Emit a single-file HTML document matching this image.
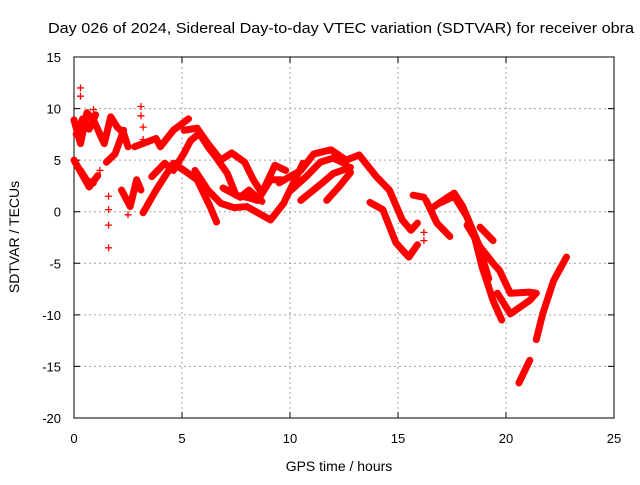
<!DOCTYPE html>
<html><head><meta charset="utf-8"><style>
body{margin:0;background:#fff}
svg text{font-family:"Liberation Sans",sans-serif;fill:#000}
</style></head><body>
<svg width="640" height="480" xmlns="http://www.w3.org/2000/svg">
<rect width="640" height="480" fill="#fff"/>
<text x="48" y="33" font-size="15" textLength="586" lengthAdjust="spacingAndGlyphs">Day 026 of 2024, Sidereal Day-to-day VTEC variation (SDTVAR) for receiver obra</text>
<g id="grid"></g>
<g id="axes"></g>
<g id="series"></g>
<text x="339" y="471" font-size="14" text-anchor="middle">GPS time / hours</text>
<text transform="translate(19,237) rotate(-90)" font-size="14" text-anchor="middle">SDTVAR / TECUs</text>
</svg>
<script>
const xTicks=[0,5,10,15,20,25];
const yTicks=[15,10,5,0,-5,-10,-15,-20];
const track1=[[0,8.9],[0.3,6.6],[0.6,9.6],[0.9,8.9],[1.4,6.6],[1.7,9.2],[2.0,8.2],[2.3,7.6],[2.5,6.3]];
const track2=[[1.5,4.8],[1.9,5.6],[2.3,7.9]];
const track3=[[0,5],[0.7,2.4],[1.1,3.5]];
const track4=[[2.2,2.1],[2.6,0.5],[2.9,3.1],[3.1,2.1]];
const track5=[[2.8,6.3],[3.8,7.1],[4.0,6.3],[4.6,7.9],[5.3,9.0]];
const track6=[[5.1,7.9],[5.7,8.1],[6.2,6.6],[6.8,5.0],[7.3,5.7],[7.9,4.8],[8.3,3.1],[8.7,1.8],[9.3,4.5],[9.8,4.0]];
const track7=[[3.6,3.4],[4.2,4.7],[4.6,4.0],[5.1,5.7],[5.4,6.9],[5.8,7.6],[6.2,6.3],[6.6,5.2],[7.1,3.7],[7.5,1.6],[8.0,1.4],[8.5,1.1],[9.1,3.1],[9.6,3.1]];
const track8=[[3.2,-0.1],[3.8,2.1],[4.6,4.7],[5.1,4.0],[5.7,3.1],[6.3,0.5],[6.6,-1.0]];
const track9=[[5.6,4.0],[6.2,2.1],[6.8,0.8],[7.4,0.4],[8.0,0.5],[9.1,-0.8],[9.7,0.8],[10.6,4.7]];
const track10=[[6.9,2.3],[7.7,1.4],[8.1,2.1],[8.7,1.0]];
const track11=[[9.5,2.8],[10.5,4.0],[11.1,5.6],[11.9,6.0],[12.6,5.0],[13.2,5.5],[14.0,3.4],[14.6,2.1],[15.2,-0.8],[15.6,-1.8],[15.9,-1.1]];
const track12=[[13.7,0.9],[14.3,0.2],[14.9,-3.0],[15.5,-4.4],[15.9,-3.2]];
const track13=[[10.5,1.1],[11.5,2.8],[12.0,3.7],[12.8,4.3]];
const track14=[[11.7,1.1],[12.3,2.5],[12.8,3.8]];
const track15=[[16.3,1.1],[16.8,-1.1],[17.4,-2.4]];
const track16=[[16.6,0.4],[17.3,1.4],[17.6,1.8],[18.0,0.5],[18.5,-2.1],[18.9,-5.4],[19.4,-8.6],[19.8,-10.5]];
const track17=[[18.2,-1.3],[18.8,-3.4],[19.4,-5.0],[19.7,-5.7],[20.2,-7.9],[21.1,-7.8],[21.4,-7.9]];
const track18=[[18.8,-1.5],[19.4,-2.8]];
const track19=[[19.6,-7.9],[20.2,-9.9],[21.1,-8.6],[21.4,-7.9]];
const track20=[[21.4,-12.4],[21.7,-9.9],[22.2,-6.7],[22.8,-4.4]];
const track21=[[20.6,-16.6],[21.1,-14.4]];
const track22=[[15.7,1.6],[16.2,1.4]];
const track23=[[0.1,7.5],[0.4,9.0],[0.7,8.0],[1.0,9.4]];
const track24=[[0.3,4.0],[0.6,3.0],[0.9,2.8]];
const track25=[[10.0,2.0],[10.8,3.5],[11.4,4.8],[12.0,5.2],[12.6,4.6]];
const track26=[[17.0,0.9],[17.6,1.5],[18.2,-0.5],[18.7,-3.0],[19.2,-6.5]];
const tracks=[track1,track2,track3,track4,track5,track6,track7,track8,track9,track10,track11,track12,track13,track14,track15,track16,track17,track18,track19,track20,track21,track22,track23,track24,track25,track26];
const outliers=[[1.6,1.5],[1.6,0.2],[1.6,-1.3],[1.6,-3.5],[3.1,10.2],[3.1,9.3],[3.2,8.2],[3.2,7.0],[0.3,12],[0.3,11.2],[0.9,9.9],[16.2,-2.0],[16.2,-2.8],[2.5,-0.3],[1.2,4.0]];
const X0=74,X1=614,Y0=418,Y1=57;
const sx=t=>X0+(t-0)/(25-0)*(X1-X0);
const sy=v=>Y0-(v+20)/(15+20)*(Y0-Y1);
const NS="http://www.w3.org/2000/svg";
function mk(tag,attrs,parent){const e=document.createElementNS(NS,tag);for(const k in attrs)e.setAttribute(k,attrs[k]);parent.appendChild(e);return e;}
const grid=document.getElementById('grid'),axes=document.getElementById('axes'),ser=document.getElementById('series');
xTicks.forEach(t=>{
 if(t>0&&t<25){const l=mk('line',{x1:sx(t),x2:sx(t),y1:Y1,y2:Y0,stroke:'#a0a0a0','stroke-dasharray':'2,3'},grid);
 
 }
 const tk=mk('path',{d:`M${sx(t)},${Y0}v-6M${sx(t)},${Y1}v6`,stroke:'#000'},axes);
 
 
 const tx=mk('text',{x:sx(t),y:443,'font-size':13,'text-anchor':'middle'},axes);tx.textContent=t;
 
 
});
yTicks.forEach(v=>{
 if(v<15&&v>-20){const l=mk('line',{x1:X0,x2:X1,y1:sy(v),y2:sy(v),stroke:'#a0a0a0','stroke-dasharray':'2,3'},grid);
 
 }
 const tk=mk('path',{d:`M${X0},${sy(v)}h6M${X1},${sy(v)}h-6`,stroke:'#000'},axes);
 
 
 const tx=mk('text',{x:61,y:sy(v)+5,'font-size':13,'text-anchor':'end'},axes);tx.textContent=v;
 
 
});
const b=mk('rect',{x:X0,y:Y1,width:X1-X0,height:Y0-Y1,fill:'none',stroke:'#000'},axes);


tracks.forEach(tr=>{
 const p=mk('polyline',{points:tr.map(d=>sx(d[0])+','+sy(d[1])).join(' '),fill:'none',stroke:'#ff0000','stroke-width':7,'stroke-linejoin':'round','stroke-linecap':'round'},ser);
 
 
});
outliers.forEach(d=>{
 const p=mk('path',{d:`M${sx(d[0])-3.5},${sy(d[1])}h7M${sx(d[0])},${sy(d[1])-3.5}v7`,stroke:'#ff0000','stroke-width':1.3},ser);
 
 
});
</script>
</body></html>
